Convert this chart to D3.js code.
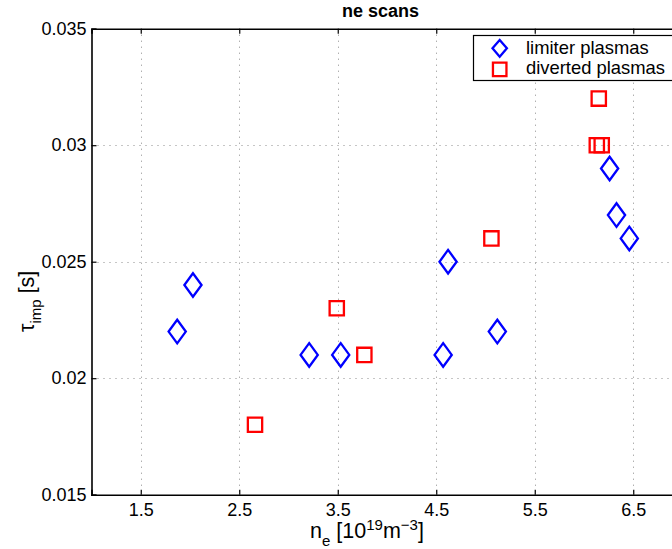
<!DOCTYPE html>
<html>
<head>
<meta charset="utf-8">
<script src="https://cdn.jsdelivr.net/npm/d3@7"></script>
<style>
  html, body { margin: 0; padding: 0; background: #fff; }
  svg { display: block; font-family: "Liberation Sans", Arial, Helvetica, sans-serif; }
</style>
</head>
<body>
<div id="chart"></div>
<script>
// Impurity confinement time vs. line-averaged density
const limiterNe  = [1.87, 2.03, 3.21, 3.53, 4.57, 4.62, 5.12, 6.26, 6.33, 6.46];
const limiterTau = [0.022, 0.024, 0.021, 0.021, 0.021, 0.025, 0.022, 0.029, 0.027, 0.026];

const divertedNe  = [2.66, 3.49, 3.77, 5.06, 6.15, 6.13, 6.18];
const divertedTau = [0.018, 0.023, 0.021, 0.026, 0.032, 0.030, 0.030];

const xTicks = [1.5, 2.5, 3.5, 4.5, 5.5, 6.5];
const xTickLabels = ["1.5", "2.5", "3.5", "4.5", "5.5", "6.5"];
const yTicks = [0.015, 0.02, 0.025, 0.03, 0.035];
const yTickLabels = ["0.015", "0.02", "0.025", "0.03", "0.035"];

const seriesNames = ["limiter plasmas", "diverted plasmas"];
const titleText = "ne scans";

(function draw() {
  const W = 672, H = 549;
  const plotL = 91.5, plotR = 682.5, plotT = 28.7, plotB = 494.7;

  const svg = d3.select("#chart").append("svg")
    .attr("width", W).attr("height", H);

  const x = d3.scaleLinear().domain([1, 7]).range([plotL, plotR]);
  const y = d3.scaleLinear().domain([0.015, 0.035]).range([plotB, plotT]);

  // dotted grid
  const grid = svg.append("g").attr("stroke", "#8c8c8c").attr("stroke-width", 1)
    .attr("stroke-dasharray", "1 5");
  grid.selectAll("line.vx").data(xTicks).join("line").attr("class", "vx")
    .attr("x1", d => Math.round(x(d)) + 0.5).attr("x2", d => Math.round(x(d)) + 0.5)
    .attr("y1", plotT).attr("y2", plotB);
  grid.selectAll("line.hy").data(yTicks.filter(v => v > 0.015 && v < 0.035)).join("line").attr("class", "hy")
    .attr("y1", d => Math.round(y(d)) + 0.5).attr("y2", d => Math.round(y(d)) + 0.5)
    .attr("x1", plotL).attr("x2", plotR);

  // axes (inward ticks, boxed)
  const fontSize = 18.4;
  const labelSize = 21.5, scriptSize = 15;
  const xAxis = d3.axisBottom(x).tickValues(xTicks)
    .tickFormat((d, i) => xTickLabels[i]).tickSize(-5).tickPadding(9);
  const gx = svg.append("g").attr("transform", `translate(0,${plotB})`).call(xAxis);

  const xTop = d3.axisTop(x).tickValues(xTicks).tickFormat("").tickSize(-5);
  const gt = svg.append("g").attr("transform", `translate(0,${plotT})`).call(xTop);

  const yAxis = d3.axisLeft(y).tickValues(yTicks)
    .tickFormat((d, i) => yTickLabels[i]).tickSize(-5).tickPadding(5);
  const gy = svg.append("g").attr("transform", `translate(${plotL},0)`).call(yAxis);

  [gx, gt, gy].forEach(g => {
    g.select(".domain").attr("stroke", "#000").attr("stroke-width", 1.6);
    g.selectAll(".tick line").attr("stroke", "#000").attr("stroke-width", 1.2);
    g.selectAll(".tick text").attr("fill", "#000")
      .style("font-size", "18px")
      .style("font-family", '"Liberation Sans", Arial, Helvetica, sans-serif');
  });

  // markers
  const diamond = (hw, hh) => `M0,${-hh}L${hw},0L0,${hh}L${-hw},0Z`;
  const square = s => `M${-s/2},${-s/2}H${s/2}V${s/2}H${-s/2}Z`;

  const limiter = limiterNe.map((v, i) => ({ ne: v, tau: limiterTau[i] }));
  const diverted = divertedNe.map((v, i) => ({ ne: v, tau: divertedTau[i] }));

  svg.append("g").selectAll("path").data(diverted).join("path")
    .attr("d", square(14.3))
    .attr("transform", d => `translate(${x(d.ne)},${y(d.tau)})`)
    .attr("fill", "none").attr("stroke", "#ff0000").attr("stroke-width", 2.3);

  svg.append("g").selectAll("path").data(limiter).join("path")
    .attr("d", diamond(8.6, 11.8))
    .attr("transform", d => `translate(${x(d.ne)},${y(d.tau)})`)
    .attr("fill", "none").attr("stroke", "#0000ff").attr("stroke-width", 2.3);

  // legend
  const lg = svg.append("g");
  lg.append("rect").attr("x", 473.5).attr("y", 35.5).attr("width", 205).attr("height", 45)
    .attr("fill", "#fff").attr("stroke", "#000").attr("stroke-width", 1.2);
  lg.append("path").attr("d", diamond(7.2, 8.4))
    .attr("transform", "translate(499.7,48.3)")
    .attr("fill", "none").attr("stroke", "#0000ff").attr("stroke-width", 2.3);
  lg.append("path").attr("d", square(13.5))
    .attr("transform", "translate(499.7,69.3)")
    .attr("fill", "none").attr("stroke", "#ff0000").attr("stroke-width", 2.3);
  lg.selectAll("text").data(seriesNames).join("text")
    .attr("x", 526).attr("y", (d, i) => 53.6 + i * 20.8)
    .attr("font-size", fontSize).attr("fill", "#000").text(d => d);

  // title
  svg.append("text").attr("x", 342).attr("y", 17)
    .attr("font-size", 18).attr("font-weight", "bold").attr("fill", "#000")
    .text(titleText);

  // x label: n_e [10^19 m^-3]
  const xl = svg.append("text").attr("x", 310).attr("y", 538)
    .attr("font-size", labelSize).attr("fill", "#000");
  xl.append("tspan").text("n");
  xl.append("tspan").attr("dy", 8).attr("font-size", scriptSize).text("e");
  xl.append("tspan").attr("dy", -8).text(" [10");
  xl.append("tspan").attr("dy", -8).attr("font-size", scriptSize).text("19");
  xl.append("tspan").attr("dy", 8).text("m");
  xl.append("tspan").attr("dy", -8).attr("font-size", scriptSize).text("\u22123");
  xl.append("tspan").attr("dy", 8).text("]");

  // y label: tau_imp [s]
  const yl = svg.append("text").attr("transform", "translate(34,332) rotate(-90)")
    .attr("font-size", labelSize).attr("fill", "#000");
  yl.append("tspan").text("\u03C4");
  yl.append("tspan").attr("dy", 7).attr("font-size", scriptSize).text("imp");
  yl.append("tspan").attr("dy", -7).text(" [s]");
})();
</script>
</body>
</html>
